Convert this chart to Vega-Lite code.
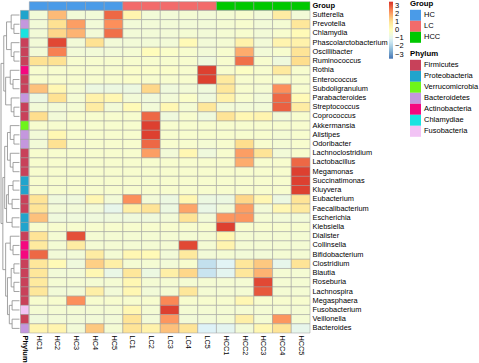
{
"$schema":"https://vega.github.io/schema/vega-lite/v6.json",
"width":310,"height":333,
"autosize":{"type":"none"},
"padding":{"left":0,"top":0,"right":169,"bottom":30},
"background":"white",
"config":{"view":{"stroke":null},"font":"Liberation Sans",
"axis":{"labelFont":"Liberation Sans","labelColor":"#000000","domain":false,"ticks":false,"title":null,"grid":false},
"legend":{"labelFont":"Liberation Sans","titleFont":"Liberation Sans","labelColor":"#000000","titleColor":"#000000","padding":0}},
"datasets":{
"heat":[
{"genus":"Sutterella","sample":"HC1","value":-0.5},{"genus":"Sutterella","sample":"HC2","value":1.7},{"genus":"Sutterella","sample":"HC3","value":-0.5},{"genus":"Sutterella","sample":"HC4","value":-0.5},{"genus":"Sutterella","sample":"HC5","value":2.8},{"genus":"Sutterella","sample":"LC1","value":0.4},{"genus":"Sutterella","sample":"LC2","value":-0.5},{"genus":"Sutterella","sample":"LC3","value":-0.5},{"genus":"Sutterella","sample":"LC4","value":-0.4},{"genus":"Sutterella","sample":"LC5","value":-0.5},{"genus":"Sutterella","sample":"HCC1","value":-0.4},{"genus":"Sutterella","sample":"HCC2","value":-0.3},{"genus":"Sutterella","sample":"HCC3","value":-0.5},{"genus":"Sutterella","sample":"HCC4","value":0.7},{"genus":"Sutterella","sample":"HCC5","value":-0.5},
{"genus":"Prevotella","sample":"HC1","value":-0.5},{"genus":"Prevotella","sample":"HC2","value":1.1},{"genus":"Prevotella","sample":"HC3","value":2.1},{"genus":"Prevotella","sample":"HC4","value":-0.5},{"genus":"Prevotella","sample":"HC5","value":2.3},{"genus":"Prevotella","sample":"LC1","value":-0.5},{"genus":"Prevotella","sample":"LC2","value":-0.5},{"genus":"Prevotella","sample":"LC3","value":-0.5},{"genus":"Prevotella","sample":"LC4","value":-0.5},{"genus":"Prevotella","sample":"LC5","value":-0.5},{"genus":"Prevotella","sample":"HCC1","value":-0.4},{"genus":"Prevotella","sample":"HCC2","value":-0.3},{"genus":"Prevotella","sample":"HCC3","value":-0.5},{"genus":"Prevotella","sample":"HCC4","value":-0.4},{"genus":"Prevotella","sample":"HCC5","value":0.9},
{"genus":"Chlamydia","sample":"HC1","value":-0.5},{"genus":"Chlamydia","sample":"HC2","value":1.3},{"genus":"Chlamydia","sample":"HC3","value":1.8},{"genus":"Chlamydia","sample":"HC4","value":-0.5},{"genus":"Chlamydia","sample":"HC5","value":2.7},{"genus":"Chlamydia","sample":"LC1","value":-0.5},{"genus":"Chlamydia","sample":"LC2","value":-0.5},{"genus":"Chlamydia","sample":"LC3","value":-0.5},{"genus":"Chlamydia","sample":"LC4","value":-0.4},{"genus":"Chlamydia","sample":"LC5","value":-0.5},{"genus":"Chlamydia","sample":"HCC1","value":-0.4},{"genus":"Chlamydia","sample":"HCC2","value":-0.3},{"genus":"Chlamydia","sample":"HCC3","value":-0.5},{"genus":"Chlamydia","sample":"HCC4","value":-0.3},{"genus":"Chlamydia","sample":"HCC5","value":0.2},
{"genus":"Phascolarctobacterium","sample":"HC1","value":-0.5},{"genus":"Phascolarctobacterium","sample":"HC2","value":3.2},{"genus":"Phascolarctobacterium","sample":"HC3","value":-0.5},{"genus":"Phascolarctobacterium","sample":"HC4","value":1.1},{"genus":"Phascolarctobacterium","sample":"HC5","value":-0.5},{"genus":"Phascolarctobacterium","sample":"LC1","value":-0.5},{"genus":"Phascolarctobacterium","sample":"LC2","value":-0.5},{"genus":"Phascolarctobacterium","sample":"LC3","value":-0.5},{"genus":"Phascolarctobacterium","sample":"LC4","value":0.2},{"genus":"Phascolarctobacterium","sample":"LC5","value":-0.5},{"genus":"Phascolarctobacterium","sample":"HCC1","value":-0.4},{"genus":"Phascolarctobacterium","sample":"HCC2","value":0.5},{"genus":"Phascolarctobacterium","sample":"HCC3","value":-0.5},{"genus":"Phascolarctobacterium","sample":"HCC4","value":0.4},{"genus":"Phascolarctobacterium","sample":"HCC5","value":0.5},
{"genus":"Oscillibacter","sample":"HC1","value":-0.5},{"genus":"Oscillibacter","sample":"HC2","value":2.5},{"genus":"Oscillibacter","sample":"HC3","value":-0.5},{"genus":"Oscillibacter","sample":"HC4","value":-0.5},{"genus":"Oscillibacter","sample":"HC5","value":-0.5},{"genus":"Oscillibacter","sample":"LC1","value":-0.4},{"genus":"Oscillibacter","sample":"LC2","value":0.1},{"genus":"Oscillibacter","sample":"LC3","value":-0.2},{"genus":"Oscillibacter","sample":"LC4","value":-0.3},{"genus":"Oscillibacter","sample":"LC5","value":-0.5},{"genus":"Oscillibacter","sample":"HCC1","value":-0.3},{"genus":"Oscillibacter","sample":"HCC2","value":1.9},{"genus":"Oscillibacter","sample":"HCC3","value":-0.5},{"genus":"Oscillibacter","sample":"HCC4","value":-0.3},{"genus":"Oscillibacter","sample":"HCC5","value":1.0},
{"genus":"Ruminococcus","sample":"HC1","value":1.1},{"genus":"Ruminococcus","sample":"HC2","value":1.1},{"genus":"Ruminococcus","sample":"HC3","value":-0.3},{"genus":"Ruminococcus","sample":"HC4","value":-0.3},{"genus":"Ruminococcus","sample":"HC5","value":-0.3},{"genus":"Ruminococcus","sample":"LC1","value":-0.3},{"genus":"Ruminococcus","sample":"LC2","value":-0.3},{"genus":"Ruminococcus","sample":"LC3","value":-0.3},{"genus":"Ruminococcus","sample":"LC4","value":-0.3},{"genus":"Ruminococcus","sample":"LC5","value":-0.6},{"genus":"Ruminococcus","sample":"HCC1","value":-0.3},{"genus":"Ruminococcus","sample":"HCC2","value":2.7},{"genus":"Ruminococcus","sample":"HCC3","value":-0.3},{"genus":"Ruminococcus","sample":"HCC4","value":-0.6},{"genus":"Ruminococcus","sample":"HCC5","value":1.2},
{"genus":"Rothia","sample":"HC1","value":-0.3},{"genus":"Rothia","sample":"HC2","value":-0.3},{"genus":"Rothia","sample":"HC3","value":-0.3},{"genus":"Rothia","sample":"HC4","value":-0.3},{"genus":"Rothia","sample":"HC5","value":-0.3},{"genus":"Rothia","sample":"LC1","value":-0.2},{"genus":"Rothia","sample":"LC2","value":-0.2},{"genus":"Rothia","sample":"LC3","value":-0.2},{"genus":"Rothia","sample":"LC4","value":-0.3},{"genus":"Rothia","sample":"LC5","value":3.3},{"genus":"Rothia","sample":"HCC1","value":-0.3},{"genus":"Rothia","sample":"HCC2","value":-0.1},{"genus":"Rothia","sample":"HCC3","value":-0.3},{"genus":"Rothia","sample":"HCC4","value":0.8},{"genus":"Rothia","sample":"HCC5","value":-0.3},
{"genus":"Enterococcus","sample":"HC1","value":-0.3},{"genus":"Enterococcus","sample":"HC2","value":-0.3},{"genus":"Enterococcus","sample":"HC3","value":-0.3},{"genus":"Enterococcus","sample":"HC4","value":-0.3},{"genus":"Enterococcus","sample":"HC5","value":-0.3},{"genus":"Enterococcus","sample":"LC1","value":-0.2},{"genus":"Enterococcus","sample":"LC2","value":-0.3},{"genus":"Enterococcus","sample":"LC3","value":-0.3},{"genus":"Enterococcus","sample":"LC4","value":-0.3},{"genus":"Enterococcus","sample":"LC5","value":3.3},{"genus":"Enterococcus","sample":"HCC1","value":0.8},{"genus":"Enterococcus","sample":"HCC2","value":-0.3},{"genus":"Enterococcus","sample":"HCC3","value":-0.3},{"genus":"Enterococcus","sample":"HCC4","value":-0.3},{"genus":"Enterococcus","sample":"HCC5","value":-0.3},
{"genus":"Subdoligranulum","sample":"HC1","value":1.6},{"genus":"Subdoligranulum","sample":"HC2","value":0.3},{"genus":"Subdoligranulum","sample":"HC3","value":-0.4},{"genus":"Subdoligranulum","sample":"HC4","value":-0.7},{"genus":"Subdoligranulum","sample":"HC5","value":-0.7},{"genus":"Subdoligranulum","sample":"LC1","value":-0.7},{"genus":"Subdoligranulum","sample":"LC2","value":1.3},{"genus":"Subdoligranulum","sample":"LC3","value":-0.6},{"genus":"Subdoligranulum","sample":"LC4","value":-0.5},{"genus":"Subdoligranulum","sample":"LC5","value":-0.6},{"genus":"Subdoligranulum","sample":"HCC1","value":0.9},{"genus":"Subdoligranulum","sample":"HCC2","value":-0.3},{"genus":"Subdoligranulum","sample":"HCC3","value":-0.4},{"genus":"Subdoligranulum","sample":"HCC4","value":2.3},{"genus":"Subdoligranulum","sample":"HCC5","value":-0.3},
{"genus":"Parabacteroides","sample":"HC1","value":-0.7},{"genus":"Parabacteroides","sample":"HC2","value":1.1},{"genus":"Parabacteroides","sample":"HC3","value":-0.4},{"genus":"Parabacteroides","sample":"HC4","value":0.5},{"genus":"Parabacteroides","sample":"HC5","value":0.3},{"genus":"Parabacteroides","sample":"LC1","value":-0.5},{"genus":"Parabacteroides","sample":"LC2","value":-0.6},{"genus":"Parabacteroides","sample":"LC3","value":-0.5},{"genus":"Parabacteroides","sample":"LC4","value":-0.2},{"genus":"Parabacteroides","sample":"LC5","value":-0.6},{"genus":"Parabacteroides","sample":"HCC1","value":0.5},{"genus":"Parabacteroides","sample":"HCC2","value":-0.3},{"genus":"Parabacteroides","sample":"HCC3","value":-0.5},{"genus":"Parabacteroides","sample":"HCC4","value":2.8},{"genus":"Parabacteroides","sample":"HCC5","value":0.2},
{"genus":"Streptococcus","sample":"HC1","value":-0.5},{"genus":"Streptococcus","sample":"HC2","value":-0.5},{"genus":"Streptococcus","sample":"HC3","value":-0.4},{"genus":"Streptococcus","sample":"HC4","value":0.7},{"genus":"Streptococcus","sample":"HC5","value":-0.5},{"genus":"Streptococcus","sample":"LC1","value":0.2},{"genus":"Streptococcus","sample":"LC2","value":-0.5},{"genus":"Streptococcus","sample":"LC3","value":0.3},{"genus":"Streptococcus","sample":"LC4","value":-0.4},{"genus":"Streptococcus","sample":"LC5","value":0.9},{"genus":"Streptococcus","sample":"HCC1","value":-0.5},{"genus":"Streptococcus","sample":"HCC2","value":-0.5},{"genus":"Streptococcus","sample":"HCC3","value":-0.5},{"genus":"Streptococcus","sample":"HCC4","value":2.9},{"genus":"Streptococcus","sample":"HCC5","value":0.7},
{"genus":"Coprococcus","sample":"HC1","value":1.2},{"genus":"Coprococcus","sample":"HC2","value":-0.5},{"genus":"Coprococcus","sample":"HC3","value":-0.3},{"genus":"Coprococcus","sample":"HC4","value":-0.3},{"genus":"Coprococcus","sample":"HC5","value":-0.3},{"genus":"Coprococcus","sample":"LC1","value":-0.3},{"genus":"Coprococcus","sample":"LC2","value":2.8},{"genus":"Coprococcus","sample":"LC3","value":-0.6},{"genus":"Coprococcus","sample":"LC4","value":-0.3},{"genus":"Coprococcus","sample":"LC5","value":-0.6},{"genus":"Coprococcus","sample":"HCC1","value":1.0},{"genus":"Coprococcus","sample":"HCC2","value":0.3},{"genus":"Coprococcus","sample":"HCC3","value":0.4},{"genus":"Coprococcus","sample":"HCC4","value":-0.5},{"genus":"Coprococcus","sample":"HCC5","value":-0.3},
{"genus":"Akkermansia","sample":"HC1","value":-0.3},{"genus":"Akkermansia","sample":"HC2","value":-0.3},{"genus":"Akkermansia","sample":"HC3","value":-0.3},{"genus":"Akkermansia","sample":"HC4","value":-0.3},{"genus":"Akkermansia","sample":"HC5","value":-0.3},{"genus":"Akkermansia","sample":"LC1","value":-0.3},{"genus":"Akkermansia","sample":"LC2","value":3.3},{"genus":"Akkermansia","sample":"LC3","value":-0.3},{"genus":"Akkermansia","sample":"LC4","value":-0.3},{"genus":"Akkermansia","sample":"LC5","value":-0.3},{"genus":"Akkermansia","sample":"HCC1","value":-0.3},{"genus":"Akkermansia","sample":"HCC2","value":-0.3},{"genus":"Akkermansia","sample":"HCC3","value":-0.3},{"genus":"Akkermansia","sample":"HCC4","value":-0.3},{"genus":"Akkermansia","sample":"HCC5","value":-0.3},
{"genus":"Alistipes","sample":"HC1","value":-0.5},{"genus":"Alistipes","sample":"HC2","value":0.3},{"genus":"Alistipes","sample":"HC3","value":-0.3},{"genus":"Alistipes","sample":"HC4","value":-0.3},{"genus":"Alistipes","sample":"HC5","value":-0.3},{"genus":"Alistipes","sample":"LC1","value":-0.3},{"genus":"Alistipes","sample":"LC2","value":3.3},{"genus":"Alistipes","sample":"LC3","value":-0.3},{"genus":"Alistipes","sample":"LC4","value":-0.3},{"genus":"Alistipes","sample":"LC5","value":-0.3},{"genus":"Alistipes","sample":"HCC1","value":-0.3},{"genus":"Alistipes","sample":"HCC2","value":-0.3},{"genus":"Alistipes","sample":"HCC3","value":-0.3},{"genus":"Alistipes","sample":"HCC4","value":-0.4},{"genus":"Alistipes","sample":"HCC5","value":-0.3},
{"genus":"Odoribacter","sample":"HC1","value":-0.5},{"genus":"Odoribacter","sample":"HC2","value":1.1},{"genus":"Odoribacter","sample":"HC3","value":-0.3},{"genus":"Odoribacter","sample":"HC4","value":-0.3},{"genus":"Odoribacter","sample":"HC5","value":-0.3},{"genus":"Odoribacter","sample":"LC1","value":-0.3},{"genus":"Odoribacter","sample":"LC2","value":2.8},{"genus":"Odoribacter","sample":"LC3","value":-0.3},{"genus":"Odoribacter","sample":"LC4","value":-0.3},{"genus":"Odoribacter","sample":"LC5","value":-0.4},{"genus":"Odoribacter","sample":"HCC1","value":-0.3},{"genus":"Odoribacter","sample":"HCC2","value":1.2},{"genus":"Odoribacter","sample":"HCC3","value":-0.3},{"genus":"Odoribacter","sample":"HCC4","value":-0.4},{"genus":"Odoribacter","sample":"HCC5","value":-0.3},
{"genus":"Lachnoclostridium","sample":"HC1","value":-0.3},{"genus":"Lachnoclostridium","sample":"HC2","value":-0.3},{"genus":"Lachnoclostridium","sample":"HC3","value":-0.3},{"genus":"Lachnoclostridium","sample":"HC4","value":-0.3},{"genus":"Lachnoclostridium","sample":"HC5","value":-0.3},{"genus":"Lachnoclostridium","sample":"LC1","value":-0.3},{"genus":"Lachnoclostridium","sample":"LC2","value":2.1},{"genus":"Lachnoclostridium","sample":"LC3","value":-0.5},{"genus":"Lachnoclostridium","sample":"LC4","value":0.3},{"genus":"Lachnoclostridium","sample":"LC5","value":-0.6},{"genus":"Lachnoclostridium","sample":"HCC1","value":-0.3},{"genus":"Lachnoclostridium","sample":"HCC2","value":2.1},{"genus":"Lachnoclostridium","sample":"HCC3","value":1.0},{"genus":"Lachnoclostridium","sample":"HCC4","value":-0.5},{"genus":"Lachnoclostridium","sample":"HCC5","value":-0.3},
{"genus":"Lactobacillus","sample":"HC1","value":-0.3},{"genus":"Lactobacillus","sample":"HC2","value":-0.3},{"genus":"Lactobacillus","sample":"HC3","value":-0.3},{"genus":"Lactobacillus","sample":"HC4","value":-0.3},{"genus":"Lactobacillus","sample":"HC5","value":-0.3},{"genus":"Lactobacillus","sample":"LC1","value":-0.3},{"genus":"Lactobacillus","sample":"LC2","value":-0.3},{"genus":"Lactobacillus","sample":"LC3","value":-0.3},{"genus":"Lactobacillus","sample":"LC4","value":-0.3},{"genus":"Lactobacillus","sample":"LC5","value":-0.3},{"genus":"Lactobacillus","sample":"HCC1","value":-0.3},{"genus":"Lactobacillus","sample":"HCC2","value":1.9},{"genus":"Lactobacillus","sample":"HCC3","value":-0.3},{"genus":"Lactobacillus","sample":"HCC4","value":-0.3},{"genus":"Lactobacillus","sample":"HCC5","value":2.8},
{"genus":"Megamonas","sample":"HC1","value":-0.3},{"genus":"Megamonas","sample":"HC2","value":-0.3},{"genus":"Megamonas","sample":"HC3","value":-0.3},{"genus":"Megamonas","sample":"HC4","value":-0.3},{"genus":"Megamonas","sample":"HC5","value":-0.3},{"genus":"Megamonas","sample":"LC1","value":-0.3},{"genus":"Megamonas","sample":"LC2","value":-0.3},{"genus":"Megamonas","sample":"LC3","value":-0.3},{"genus":"Megamonas","sample":"LC4","value":-0.3},{"genus":"Megamonas","sample":"LC5","value":-0.3},{"genus":"Megamonas","sample":"HCC1","value":-0.3},{"genus":"Megamonas","sample":"HCC2","value":-0.3},{"genus":"Megamonas","sample":"HCC3","value":-0.3},{"genus":"Megamonas","sample":"HCC4","value":-0.3},{"genus":"Megamonas","sample":"HCC5","value":3.3},
{"genus":"Succinatimonas","sample":"HC1","value":-0.3},{"genus":"Succinatimonas","sample":"HC2","value":-0.3},{"genus":"Succinatimonas","sample":"HC3","value":-0.3},{"genus":"Succinatimonas","sample":"HC4","value":-0.3},{"genus":"Succinatimonas","sample":"HC5","value":-0.3},{"genus":"Succinatimonas","sample":"LC1","value":-0.3},{"genus":"Succinatimonas","sample":"LC2","value":-0.3},{"genus":"Succinatimonas","sample":"LC3","value":-0.3},{"genus":"Succinatimonas","sample":"LC4","value":-0.3},{"genus":"Succinatimonas","sample":"LC5","value":-0.3},{"genus":"Succinatimonas","sample":"HCC1","value":-0.3},{"genus":"Succinatimonas","sample":"HCC2","value":-0.3},{"genus":"Succinatimonas","sample":"HCC3","value":-0.3},{"genus":"Succinatimonas","sample":"HCC4","value":-0.3},{"genus":"Succinatimonas","sample":"HCC5","value":3.3},
{"genus":"Kluyvera","sample":"HC1","value":-0.3},{"genus":"Kluyvera","sample":"HC2","value":-0.3},{"genus":"Kluyvera","sample":"HC3","value":-0.3},{"genus":"Kluyvera","sample":"HC4","value":-0.3},{"genus":"Kluyvera","sample":"HC5","value":-0.3},{"genus":"Kluyvera","sample":"LC1","value":-0.3},{"genus":"Kluyvera","sample":"LC2","value":-0.3},{"genus":"Kluyvera","sample":"LC3","value":-0.3},{"genus":"Kluyvera","sample":"LC4","value":-0.3},{"genus":"Kluyvera","sample":"LC5","value":-0.3},{"genus":"Kluyvera","sample":"HCC1","value":-0.3},{"genus":"Kluyvera","sample":"HCC2","value":-0.3},{"genus":"Kluyvera","sample":"HCC3","value":-0.3},{"genus":"Kluyvera","sample":"HCC4","value":-0.3},{"genus":"Kluyvera","sample":"HCC5","value":3.3},
{"genus":"Eubacterium","sample":"HC1","value":1.0},{"genus":"Eubacterium","sample":"HC2","value":-0.6},{"genus":"Eubacterium","sample":"HC3","value":-0.6},{"genus":"Eubacterium","sample":"HC4","value":0.3},{"genus":"Eubacterium","sample":"HC5","value":-0.5},{"genus":"Eubacterium","sample":"LC1","value":2.3},{"genus":"Eubacterium","sample":"LC2","value":-0.5},{"genus":"Eubacterium","sample":"LC3","value":-0.7},{"genus":"Eubacterium","sample":"LC4","value":0.3},{"genus":"Eubacterium","sample":"LC5","value":-0.7},{"genus":"Eubacterium","sample":"HCC1","value":-0.7},{"genus":"Eubacterium","sample":"HCC2","value":1.3},{"genus":"Eubacterium","sample":"HCC3","value":0.3},{"genus":"Eubacterium","sample":"HCC4","value":-0.7},{"genus":"Eubacterium","sample":"HCC5","value":1.0},
{"genus":"Faecalibacterium","sample":"HC1","value":1.0},{"genus":"Faecalibacterium","sample":"HC2","value":-0.5},{"genus":"Faecalibacterium","sample":"HC3","value":-0.5},{"genus":"Faecalibacterium","sample":"HC4","value":-0.5},{"genus":"Faecalibacterium","sample":"HC5","value":-0.9},{"genus":"Faecalibacterium","sample":"LC1","value":0.6},{"genus":"Faecalibacterium","sample":"LC2","value":1.0},{"genus":"Faecalibacterium","sample":"LC3","value":-0.7},{"genus":"Faecalibacterium","sample":"LC4","value":2.0},{"genus":"Faecalibacterium","sample":"LC5","value":-0.8},{"genus":"Faecalibacterium","sample":"HCC1","value":-0.5},{"genus":"Faecalibacterium","sample":"HCC2","value":2.1},{"genus":"Faecalibacterium","sample":"HCC3","value":-0.5},{"genus":"Faecalibacterium","sample":"HCC4","value":0.3},{"genus":"Faecalibacterium","sample":"HCC5","value":0.8},
{"genus":"Escherichia","sample":"HC1","value":1.6},{"genus":"Escherichia","sample":"HC2","value":-0.6},{"genus":"Escherichia","sample":"HC3","value":-0.6},{"genus":"Escherichia","sample":"HC4","value":-0.6},{"genus":"Escherichia","sample":"HC5","value":-0.6},{"genus":"Escherichia","sample":"LC1","value":-0.6},{"genus":"Escherichia","sample":"LC2","value":-0.6},{"genus":"Escherichia","sample":"LC3","value":-0.5},{"genus":"Escherichia","sample":"LC4","value":1.0},{"genus":"Escherichia","sample":"LC5","value":-0.5},{"genus":"Escherichia","sample":"HCC1","value":2.2},{"genus":"Escherichia","sample":"HCC2","value":2.2},{"genus":"Escherichia","sample":"HCC3","value":-0.4},{"genus":"Escherichia","sample":"HCC4","value":-0.5},{"genus":"Escherichia","sample":"HCC5","value":-0.5},
{"genus":"Klebsiella","sample":"HC1","value":-0.3},{"genus":"Klebsiella","sample":"HC2","value":-0.3},{"genus":"Klebsiella","sample":"HC3","value":-0.3},{"genus":"Klebsiella","sample":"HC4","value":-0.3},{"genus":"Klebsiella","sample":"HC5","value":-0.3},{"genus":"Klebsiella","sample":"LC1","value":-0.3},{"genus":"Klebsiella","sample":"LC2","value":-0.3},{"genus":"Klebsiella","sample":"LC3","value":-0.3},{"genus":"Klebsiella","sample":"LC4","value":-0.3},{"genus":"Klebsiella","sample":"LC5","value":-0.3},{"genus":"Klebsiella","sample":"HCC1","value":3.3},{"genus":"Klebsiella","sample":"HCC2","value":-0.3},{"genus":"Klebsiella","sample":"HCC3","value":-0.3},{"genus":"Klebsiella","sample":"HCC4","value":-0.3},{"genus":"Klebsiella","sample":"HCC5","value":-0.3},
{"genus":"Dialister","sample":"HC1","value":1.0},{"genus":"Dialister","sample":"HC2","value":-0.4},{"genus":"Dialister","sample":"HC3","value":3.1},{"genus":"Dialister","sample":"HC4","value":-0.4},{"genus":"Dialister","sample":"HC5","value":-0.4},{"genus":"Dialister","sample":"LC1","value":-0.4},{"genus":"Dialister","sample":"LC2","value":-0.4},{"genus":"Dialister","sample":"LC3","value":-0.4},{"genus":"Dialister","sample":"LC4","value":-0.4},{"genus":"Dialister","sample":"LC5","value":-0.4},{"genus":"Dialister","sample":"HCC1","value":0.3},{"genus":"Dialister","sample":"HCC2","value":-0.4},{"genus":"Dialister","sample":"HCC3","value":-0.4},{"genus":"Dialister","sample":"HCC4","value":-0.4},{"genus":"Dialister","sample":"HCC5","value":-0.4},
{"genus":"Collinsella","sample":"HC1","value":0.8},{"genus":"Collinsella","sample":"HC2","value":-0.4},{"genus":"Collinsella","sample":"HC3","value":0.7},{"genus":"Collinsella","sample":"HC4","value":-0.4},{"genus":"Collinsella","sample":"HC5","value":-0.4},{"genus":"Collinsella","sample":"LC1","value":-0.4},{"genus":"Collinsella","sample":"LC2","value":-0.4},{"genus":"Collinsella","sample":"LC3","value":-0.4},{"genus":"Collinsella","sample":"LC4","value":3.2},{"genus":"Collinsella","sample":"LC5","value":-0.4},{"genus":"Collinsella","sample":"HCC1","value":0.4},{"genus":"Collinsella","sample":"HCC2","value":-0.4},{"genus":"Collinsella","sample":"HCC3","value":-0.4},{"genus":"Collinsella","sample":"HCC4","value":-0.4},{"genus":"Collinsella","sample":"HCC5","value":-0.4},
{"genus":"Bifidobacterium","sample":"HC1","value":2.8},{"genus":"Bifidobacterium","sample":"HC2","value":-0.5},{"genus":"Bifidobacterium","sample":"HC3","value":-0.5},{"genus":"Bifidobacterium","sample":"HC4","value":0.7},{"genus":"Bifidobacterium","sample":"HC5","value":-0.4},{"genus":"Bifidobacterium","sample":"LC1","value":0.3},{"genus":"Bifidobacterium","sample":"LC2","value":0.2},{"genus":"Bifidobacterium","sample":"LC3","value":-0.5},{"genus":"Bifidobacterium","sample":"LC4","value":0.8},{"genus":"Bifidobacterium","sample":"LC5","value":-0.5},{"genus":"Bifidobacterium","sample":"HCC1","value":-0.4},{"genus":"Bifidobacterium","sample":"HCC2","value":-0.5},{"genus":"Bifidobacterium","sample":"HCC3","value":-0.5},{"genus":"Bifidobacterium","sample":"HCC4","value":-0.4},{"genus":"Bifidobacterium","sample":"HCC5","value":-0.4},
{"genus":"Clostridium","sample":"HC1","value":0.9},{"genus":"Clostridium","sample":"HC2","value":0.2},{"genus":"Clostridium","sample":"HC3","value":-0.6},{"genus":"Clostridium","sample":"HC4","value":1.4},{"genus":"Clostridium","sample":"HC5","value":0.6},{"genus":"Clostridium","sample":"LC1","value":-0.4},{"genus":"Clostridium","sample":"LC2","value":-0.4},{"genus":"Clostridium","sample":"LC3","value":-0.5},{"genus":"Clostridium","sample":"LC4","value":-0.3},{"genus":"Clostridium","sample":"LC5","value":-1.6},{"genus":"Clostridium","sample":"HCC1","value":-1.1},{"genus":"Clostridium","sample":"HCC2","value":0.9},{"genus":"Clostridium","sample":"HCC3","value":1.5},{"genus":"Clostridium","sample":"HCC4","value":-0.9},{"genus":"Clostridium","sample":"HCC5","value":1.0},
{"genus":"Blautia","sample":"HC1","value":0.9},{"genus":"Blautia","sample":"HC2","value":-0.5},{"genus":"Blautia","sample":"HC3","value":-0.5},{"genus":"Blautia","sample":"HC4","value":0.3},{"genus":"Blautia","sample":"HC5","value":-0.8},{"genus":"Blautia","sample":"LC1","value":0.9},{"genus":"Blautia","sample":"LC2","value":-0.7},{"genus":"Blautia","sample":"LC3","value":0.6},{"genus":"Blautia","sample":"LC4","value":1.3},{"genus":"Blautia","sample":"LC5","value":-1.5},{"genus":"Blautia","sample":"HCC1","value":-1.0},{"genus":"Blautia","sample":"HCC2","value":0.9},{"genus":"Blautia","sample":"HCC3","value":1.8},{"genus":"Blautia","sample":"HCC4","value":-0.4},{"genus":"Blautia","sample":"HCC5","value":-0.4},
{"genus":"Roseburia","sample":"HC1","value":0.8},{"genus":"Roseburia","sample":"HC2","value":-0.4},{"genus":"Roseburia","sample":"HC3","value":-0.4},{"genus":"Roseburia","sample":"HC4","value":-0.4},{"genus":"Roseburia","sample":"HC5","value":-0.4},{"genus":"Roseburia","sample":"LC1","value":0.3},{"genus":"Roseburia","sample":"LC2","value":-0.4},{"genus":"Roseburia","sample":"LC3","value":-0.4},{"genus":"Roseburia","sample":"LC4","value":-0.4},{"genus":"Roseburia","sample":"LC5","value":-0.4},{"genus":"Roseburia","sample":"HCC1","value":-0.4},{"genus":"Roseburia","sample":"HCC2","value":-0.4},{"genus":"Roseburia","sample":"HCC3","value":3.2},{"genus":"Roseburia","sample":"HCC4","value":-0.4},{"genus":"Roseburia","sample":"HCC5","value":-0.4},
{"genus":"Lachnospira","sample":"HC1","value":0.9},{"genus":"Lachnospira","sample":"HC2","value":-0.5},{"genus":"Lachnospira","sample":"HC3","value":-0.5},{"genus":"Lachnospira","sample":"HC4","value":0.6},{"genus":"Lachnospira","sample":"HC5","value":-0.5},{"genus":"Lachnospira","sample":"LC1","value":0.3},{"genus":"Lachnospira","sample":"LC2","value":-0.5},{"genus":"Lachnospira","sample":"LC3","value":-0.4},{"genus":"Lachnospira","sample":"LC4","value":0.9},{"genus":"Lachnospira","sample":"LC5","value":-0.4},{"genus":"Lachnospira","sample":"HCC1","value":-0.4},{"genus":"Lachnospira","sample":"HCC2","value":-0.4},{"genus":"Lachnospira","sample":"HCC3","value":3.0},{"genus":"Lachnospira","sample":"HCC4","value":-0.4},{"genus":"Lachnospira","sample":"HCC5","value":-0.4},
{"genus":"Megasphaera","sample":"HC1","value":-0.3},{"genus":"Megasphaera","sample":"HC2","value":-0.3},{"genus":"Megasphaera","sample":"HC3","value":2.3},{"genus":"Megasphaera","sample":"HC4","value":-0.3},{"genus":"Megasphaera","sample":"HC5","value":-0.3},{"genus":"Megasphaera","sample":"LC1","value":-0.3},{"genus":"Megasphaera","sample":"LC2","value":-0.3},{"genus":"Megasphaera","sample":"LC3","value":2.4},{"genus":"Megasphaera","sample":"LC4","value":-0.3},{"genus":"Megasphaera","sample":"LC5","value":-0.3},{"genus":"Megasphaera","sample":"HCC1","value":-0.3},{"genus":"Megasphaera","sample":"HCC2","value":0.3},{"genus":"Megasphaera","sample":"HCC3","value":-0.3},{"genus":"Megasphaera","sample":"HCC4","value":-0.3},{"genus":"Megasphaera","sample":"HCC5","value":-0.3},
{"genus":"Fusobacterium","sample":"HC1","value":-0.4},{"genus":"Fusobacterium","sample":"HC2","value":-0.4},{"genus":"Fusobacterium","sample":"HC3","value":-0.4},{"genus":"Fusobacterium","sample":"HC4","value":-0.4},{"genus":"Fusobacterium","sample":"HC5","value":-0.4},{"genus":"Fusobacterium","sample":"LC1","value":0.3},{"genus":"Fusobacterium","sample":"LC2","value":-0.4},{"genus":"Fusobacterium","sample":"LC3","value":3.3},{"genus":"Fusobacterium","sample":"LC4","value":-0.4},{"genus":"Fusobacterium","sample":"LC5","value":-0.4},{"genus":"Fusobacterium","sample":"HCC1","value":-0.4},{"genus":"Fusobacterium","sample":"HCC2","value":-0.4},{"genus":"Fusobacterium","sample":"HCC3","value":-0.4},{"genus":"Fusobacterium","sample":"HCC4","value":-0.4},{"genus":"Fusobacterium","sample":"HCC5","value":-0.4},
{"genus":"Veillonella","sample":"HC1","value":-0.6},{"genus":"Veillonella","sample":"HC2","value":-0.5},{"genus":"Veillonella","sample":"HC3","value":-0.5},{"genus":"Veillonella","sample":"HC4","value":-0.5},{"genus":"Veillonella","sample":"HC5","value":-0.5},{"genus":"Veillonella","sample":"LC1","value":1.0},{"genus":"Veillonella","sample":"LC2","value":-0.5},{"genus":"Veillonella","sample":"LC3","value":2.2},{"genus":"Veillonella","sample":"LC4","value":-0.5},{"genus":"Veillonella","sample":"LC5","value":-0.5},{"genus":"Veillonella","sample":"HCC1","value":-0.4},{"genus":"Veillonella","sample":"HCC2","value":0.6},{"genus":"Veillonella","sample":"HCC3","value":-0.4},{"genus":"Veillonella","sample":"HCC4","value":2.2},{"genus":"Veillonella","sample":"HCC5","value":-0.4},
{"genus":"Bacteroides","sample":"HC1","value":0.4},{"genus":"Bacteroides","sample":"HC2","value":0.4},{"genus":"Bacteroides","sample":"HC3","value":-0.5},{"genus":"Bacteroides","sample":"HC4","value":1.5},{"genus":"Bacteroides","sample":"HC5","value":-0.4},{"genus":"Bacteroides","sample":"LC1","value":1.0},{"genus":"Bacteroides","sample":"LC2","value":0.5},{"genus":"Bacteroides","sample":"LC3","value":1.6},{"genus":"Bacteroides","sample":"LC4","value":1.0},{"genus":"Bacteroides","sample":"LC5","value":-1.2},{"genus":"Bacteroides","sample":"HCC1","value":-1.0},{"genus":"Bacteroides","sample":"HCC2","value":-0.5},{"genus":"Bacteroides","sample":"HCC3","value":0.3},{"genus":"Bacteroides","sample":"HCC4","value":1.0},{"genus":"Bacteroides","sample":"HCC5","value":-0.9}
],
"groups":[
{"sample":"HC1","group":"HC","track":"Group"},{"sample":"HC2","group":"HC","track":"Group"},{"sample":"HC3","group":"HC","track":"Group"},{"sample":"HC4","group":"HC","track":"Group"},{"sample":"HC5","group":"HC","track":"Group"},
{"sample":"LC1","group":"LC","track":"Group"},{"sample":"LC2","group":"LC","track":"Group"},{"sample":"LC3","group":"LC","track":"Group"},{"sample":"LC4","group":"LC","track":"Group"},{"sample":"LC5","group":"LC","track":"Group"},
{"sample":"HCC1","group":"HCC","track":"Group"},{"sample":"HCC2","group":"HCC","track":"Group"},{"sample":"HCC3","group":"HCC","track":"Group"},{"sample":"HCC4","group":"HCC","track":"Group"},{"sample":"HCC5","group":"HCC","track":"Group"}
],
"phyla":[
{"genus":"Sutterella","phylum":"Proteobacteria","track":"Phylum"},
{"genus":"Prevotella","phylum":"Bacteroidetes","track":"Phylum"},
{"genus":"Chlamydia","phylum":"Chlamydiae","track":"Phylum"},
{"genus":"Phascolarctobacterium","phylum":"Firmicutes","track":"Phylum"},
{"genus":"Oscillibacter","phylum":"Firmicutes","track":"Phylum"},
{"genus":"Ruminococcus","phylum":"Firmicutes","track":"Phylum"},
{"genus":"Rothia","phylum":"Actinobacteria","track":"Phylum"},
{"genus":"Enterococcus","phylum":"Firmicutes","track":"Phylum"},
{"genus":"Subdoligranulum","phylum":"Firmicutes","track":"Phylum"},
{"genus":"Parabacteroides","phylum":"Bacteroidetes","track":"Phylum"},
{"genus":"Streptococcus","phylum":"Firmicutes","track":"Phylum"},
{"genus":"Coprococcus","phylum":"Firmicutes","track":"Phylum"},
{"genus":"Akkermansia","phylum":"Verrucomicrobia","track":"Phylum"},
{"genus":"Alistipes","phylum":"Bacteroidetes","track":"Phylum"},
{"genus":"Odoribacter","phylum":"Bacteroidetes","track":"Phylum"},
{"genus":"Lachnoclostridium","phylum":"Firmicutes","track":"Phylum"},
{"genus":"Lactobacillus","phylum":"Firmicutes","track":"Phylum"},
{"genus":"Megamonas","phylum":"Firmicutes","track":"Phylum"},
{"genus":"Succinatimonas","phylum":"Proteobacteria","track":"Phylum"},
{"genus":"Kluyvera","phylum":"Proteobacteria","track":"Phylum"},
{"genus":"Eubacterium","phylum":"Firmicutes","track":"Phylum"},
{"genus":"Faecalibacterium","phylum":"Firmicutes","track":"Phylum"},
{"genus":"Escherichia","phylum":"Proteobacteria","track":"Phylum"},
{"genus":"Klebsiella","phylum":"Proteobacteria","track":"Phylum"},
{"genus":"Dialister","phylum":"Firmicutes","track":"Phylum"},
{"genus":"Collinsella","phylum":"Actinobacteria","track":"Phylum"},
{"genus":"Bifidobacterium","phylum":"Actinobacteria","track":"Phylum"},
{"genus":"Clostridium","phylum":"Firmicutes","track":"Phylum"},
{"genus":"Blautia","phylum":"Firmicutes","track":"Phylum"},
{"genus":"Roseburia","phylum":"Firmicutes","track":"Phylum"},
{"genus":"Lachnospira","phylum":"Firmicutes","track":"Phylum"},
{"genus":"Megasphaera","phylum":"Firmicutes","track":"Phylum"},
{"genus":"Fusobacterium","phylum":"Fusobacteria","track":"Phylum"},
{"genus":"Veillonella","phylum":"Firmicutes","track":"Phylum"},
{"genus":"Bacteroides","phylum":"Bacteroidetes","track":"Phylum"}
],
"tree":[
{"h1":0,"h2":0.3,"p1":2,"p2":2},{"h1":0,"h2":0.3,"p1":3,"p2":3},{"h1":0.3,"h2":0.3,"p1":2,"p2":3},
{"h1":0,"h2":0.45,"p1":1,"p2":1},{"h1":0.3,"h2":0.45,"p1":2.5,"p2":2.5},{"h1":0.45,"h2":0.45,"p1":1,"p2":2.5},
{"h1":0,"h2":0.3,"p1":5,"p2":5},{"h1":0,"h2":0.3,"p1":6,"p2":6},{"h1":0.3,"h2":0.3,"p1":5,"p2":6},
{"h1":0,"h2":0.45,"p1":4,"p2":4},{"h1":0.3,"h2":0.45,"p1":5.5,"p2":5.5},{"h1":0.45,"h2":0.45,"p1":4,"p2":5.5},
{"h1":0.45,"h2":0.7,"p1":1.75,"p2":1.75},{"h1":0.45,"h2":0.7,"p1":4.75,"p2":4.75},{"h1":0.7,"h2":0.7,"p1":1.75,"p2":4.75},
{"h1":0,"h2":0.35,"p1":8,"p2":8},{"h1":0,"h2":0.35,"p1":9,"p2":9},{"h1":0.35,"h2":0.35,"p1":8,"p2":9},
{"h1":0,"h2":0.5,"p1":7,"p2":7},{"h1":0.35,"h2":0.5,"p1":8.5,"p2":8.5},{"h1":0.5,"h2":0.5,"p1":7,"p2":8.5},
{"h1":0,"h2":0.3,"p1":11,"p2":11},{"h1":0,"h2":0.3,"p1":12,"p2":12},{"h1":0.3,"h2":0.3,"p1":11,"p2":12},
{"h1":0,"h2":0.45,"p1":10,"p2":10},{"h1":0.3,"h2":0.45,"p1":11.5,"p2":11.5},{"h1":0.45,"h2":0.45,"p1":10,"p2":11.5},
{"h1":0.5,"h2":0.75,"p1":7.75,"p2":7.75},{"h1":0.45,"h2":0.75,"p1":10.75,"p2":10.75},{"h1":0.75,"h2":0.75,"p1":7.75,"p2":10.75},
{"h1":0.7,"h2":0.85,"p1":3.25,"p2":3.25},{"h1":0.75,"h2":0.85,"p1":9.25,"p2":9.25},{"h1":0.85,"h2":0.85,"p1":3.25,"p2":9.25},
{"h1":0,"h2":0.3,"p1":14,"p2":14},{"h1":0,"h2":0.3,"p1":15,"p2":15},{"h1":0.3,"h2":0.3,"p1":14,"p2":15},
{"h1":0,"h2":0.5,"p1":13,"p2":13},{"h1":0.3,"h2":0.5,"p1":14.5,"p2":14.5},{"h1":0.5,"h2":0.5,"p1":13,"p2":14.5},
{"h1":0,"h2":0.35,"p1":17,"p2":17},{"h1":0,"h2":0.35,"p1":18,"p2":18},{"h1":0.35,"h2":0.35,"p1":17,"p2":18},
{"h1":0,"h2":0.5,"p1":16,"p2":16},{"h1":0.35,"h2":0.5,"p1":17.5,"p2":17.5},{"h1":0.5,"h2":0.5,"p1":16,"p2":17.5},
{"h1":0.5,"h2":0.65,"p1":13.75,"p2":13.75},{"h1":0.5,"h2":0.65,"p1":16.75,"p2":16.75},{"h1":0.65,"h2":0.65,"p1":13.75,"p2":16.75},
{"h1":0,"h2":0.35,"p1":19,"p2":19},{"h1":0,"h2":0.35,"p1":20,"p2":20},{"h1":0.35,"h2":0.35,"p1":19,"p2":20},
{"h1":0,"h2":0.4,"p1":21,"p2":21},{"h1":0,"h2":0.4,"p1":22,"p2":22},{"h1":0.4,"h2":0.4,"p1":21,"p2":22},
{"h1":0.35,"h2":0.6,"p1":19.5,"p2":19.5},{"h1":0.4,"h2":0.6,"p1":21.5,"p2":21.5},{"h1":0.6,"h2":0.6,"p1":19.5,"p2":21.5},
{"h1":0,"h2":0.4,"p1":23,"p2":23},{"h1":0,"h2":0.4,"p1":24,"p2":24},{"h1":0.4,"h2":0.4,"p1":23,"p2":24},
{"h1":0.6,"h2":0.7,"p1":20.5,"p2":20.5},{"h1":0.4,"h2":0.7,"p1":23.5,"p2":23.5},{"h1":0.7,"h2":0.7,"p1":20.5,"p2":23.5},
{"h1":0.65,"h2":0.8,"p1":15.25,"p2":15.25},{"h1":0.7,"h2":0.8,"p1":22,"p2":22},{"h1":0.8,"h2":0.8,"p1":15.25,"p2":22},
{"h1":0,"h2":0.35,"p1":26,"p2":26},{"h1":0,"h2":0.35,"p1":27,"p2":27},{"h1":0.35,"h2":0.35,"p1":26,"p2":27},
{"h1":0,"h2":0.5,"p1":25,"p2":25},{"h1":0.35,"h2":0.5,"p1":26.5,"p2":26.5},{"h1":0.5,"h2":0.5,"p1":25,"p2":26.5},
{"h1":0,"h2":0.3,"p1":28,"p2":28},{"h1":0,"h2":0.3,"p1":29,"p2":29},{"h1":0.3,"h2":0.3,"p1":28,"p2":29},
{"h1":0,"h2":0.3,"p1":30,"p2":30},{"h1":0,"h2":0.3,"p1":31,"p2":31},{"h1":0.3,"h2":0.3,"p1":30,"p2":31},
{"h1":0.3,"h2":0.45,"p1":28.5,"p2":28.5},{"h1":0.3,"h2":0.45,"p1":30.5,"p2":30.5},{"h1":0.45,"h2":0.45,"p1":28.5,"p2":30.5},
{"h1":0,"h2":0.4,"p1":32,"p2":32},{"h1":0,"h2":0.4,"p1":33,"p2":33},{"h1":0.4,"h2":0.4,"p1":32,"p2":33},
{"h1":0,"h2":0.4,"p1":34,"p2":34},{"h1":0,"h2":0.4,"p1":35,"p2":35},{"h1":0.4,"h2":0.4,"p1":34,"p2":35},
{"h1":0.4,"h2":0.55,"p1":32.5,"p2":32.5},{"h1":0.4,"h2":0.55,"p1":34.5,"p2":34.5},{"h1":0.55,"h2":0.55,"p1":32.5,"p2":34.5},
{"h1":0.45,"h2":0.65,"p1":29.5,"p2":29.5},{"h1":0.55,"h2":0.65,"p1":33.5,"p2":33.5},{"h1":0.65,"h2":0.65,"p1":29.5,"p2":33.5},
{"h1":0.5,"h2":0.75,"p1":25.75,"p2":25.75},{"h1":0.65,"h2":0.75,"p1":31.5,"p2":31.5},{"h1":0.75,"h2":0.75,"p1":25.75,"p2":31.5},
{"h1":0.8,"h2":0.9,"p1":18.625,"p2":18.625},{"h1":0.75,"h2":0.9,"p1":28.625,"p2":28.625},{"h1":0.9,"h2":0.9,"p1":18.625,"p2":28.625},
{"h1":0.85,"h2":1,"p1":6.25,"p2":6.25},{"h1":0.9,"h2":1,"p1":23.625,"p2":23.625},{"h1":1,"h2":1,"p1":6.25,"p2":23.625}
]
},
"layer":[
{
"data":{"name":"heat"},
"mark":{"type":"rect","stroke":"#999999","strokeWidth":0.5},
"encoding":{
"x":{"field":"sample","type":"nominal","sort":null,"scale":{"range":[29.3,310],"paddingInner":0,"paddingOuter":0},"axis":{"orient":"bottom","labelAngle":90,"labelAlign":"left","labelBaseline":"middle","labelPadding":2,"labelFontSize":7.3}},
"y":{"field":"genus","type":"nominal","sort":null,"scale":{"range":[10.4,333],"paddingInner":0,"paddingOuter":0},"axis":{"orient":"right","labelPadding":2,"labelFontSize":7.4,"labelOverlap":false}},
"color":{"field":"value","type":"quantitative","scale":{"domain":[-3.5,-2.3333,-1.1667,0,1.1667,2.3333,3.5],"range":["#4575B4","#91BFDB","#E0F3F8","#FFFFBF","#FEE090","#FC8D59","#D73027"],"interpolate":"rgb","clamp":true},
"legend":{"orient":"none","legendX":389,"legendY":1.7,"direction":"vertical","title":null,"gradientLength":57,"gradientThickness":4,"gradientStrokeWidth":0,"values":[-3,-2,-1,0,1,2,3],"labelFontSize":7.5,"labelOffset":2,"labelOverlap":false}}
}
},
{
"data":{"name":"groups"},
"mark":{"type":"rect","stroke":"#999999","strokeWidth":0.5},
"encoding":{
"x":{"field":"sample","type":"nominal","sort":null,"scale":{"range":[29.3,310],"paddingInner":0,"paddingOuter":0},"axis":null},
"y":{"field":"track","type":"nominal","scale":{"range":[1.7,10.2],"paddingInner":0,"paddingOuter":0},"axis":{"orient":"right","labelPadding":2,"labelFontSize":7.5,"labelFontWeight":"bold"}},
"color":{"field":"group","type":"nominal","scale":{"domain":["HC","LC","HCC"],"range":["#4A9BE8","#F26B6B","#00C800"]},
"legend":{"orient":"none","legendX":410,"legendY":0,"title":"Group","titleFontSize":7.8,"titleFontWeight":"bold","titlePadding":2,"symbolType":"square","symbolSize":121,"symbolStrokeWidth":0,"rowPadding":0,"labelFontSize":7.5,"labelOffset":3}}
}
},
{
"data":{"name":"phyla"},
"mark":{"type":"rect","stroke":"#999999","strokeWidth":0.5},
"encoding":{
"x":{"field":"track","type":"nominal","scale":{"range":[20.5,28.7],"paddingInner":0,"paddingOuter":0},"axis":{"orient":"bottom","labelAngle":90,"labelAlign":"left","labelBaseline":"middle","labelPadding":2,"labelFontSize":7.5,"labelFontWeight":"bold"}},
"y":{"field":"genus","type":"nominal","sort":null,"scale":{"range":[10.4,333],"paddingInner":0,"paddingOuter":0},"axis":null},
"color":{"field":"phylum","type":"nominal","scale":{"domain":["Firmicutes","Proteobacteria","Verrucomicrobia","Bacteroidetes","Actinobacteria","Chlamydiae","Fusobacteria"],"range":["#C8415A","#20A4CC","#6EF51A","#C497DE","#F5077F","#19E3E0","#F2C3F5"]},
"legend":{"orient":"none","legendX":410,"legendY":50,"title":"Phylum","titleFontSize":7.8,"titleFontWeight":"bold","titlePadding":2,"symbolType":"square","symbolSize":121,"symbolStrokeWidth":0,"rowPadding":0,"labelFontSize":7.5,"labelOffset":3}}
}
},
{
"data":{"name":"tree"},
"mark":{"type":"rule","color":"#8c8c8c","strokeWidth":0.8},
"encoding":{
"x":{"field":"h1","type":"quantitative","scale":{"domain":[0,1],"range":[19.5,1],"zero":false,"nice":false},"axis":null},
"x2":{"field":"h2"},
"y":{"field":"p1","type":"quantitative","scale":{"domain":[0.5,35.5],"range":[10.4,333],"zero":false,"nice":false},"axis":null},
"y2":{"field":"p2"}
}
}
],
"resolve":{"scale":{"x":"independent","y":"independent","color":"independent"},"axis":{"x":"independent","y":"independent"},"legend":{"color":"independent"}}
}
